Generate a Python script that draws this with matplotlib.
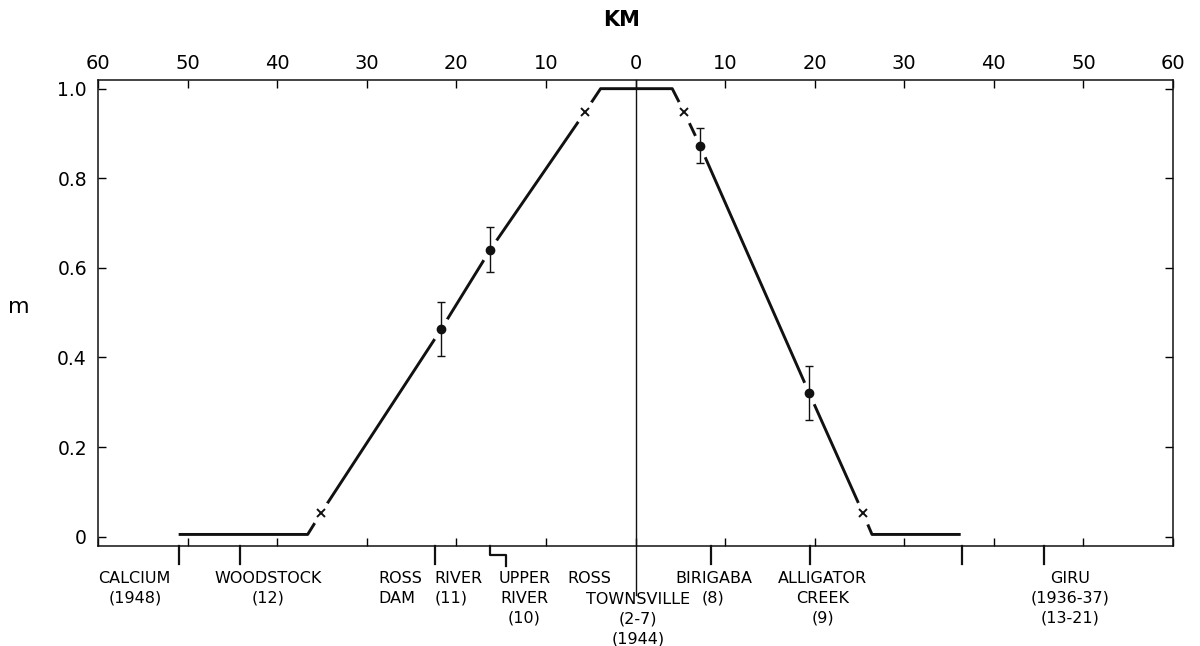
"""Profile of m against distance (km) either side of Townsville."""

import matplotlib
matplotlib.use("Agg")
import matplotlib.pyplot as plt

# fitted profile (km, m)
profile_km = [-51.0, -36.6, -35.1, -21.7, -16.2, -5.6, -3.9, 4.1, 5.4, 7.2, 19.4, 25.4, 26.4, 36.3]
profile_m = [0.005, 0.005, 0.053, 0.463, 0.641, 0.949, 1.0, 1.0, 0.949, 0.873, 0.320, 0.052, 0.005, 0.005]

# observed points with error bars
obs_km = [-21.7, -16.2, 7.2, 19.4]
obs_m = [0.463, 0.641, 0.873, 0.320]
obs_err = [0.06, 0.05, 0.04, 0.06]

# crosses on the profile
cross_km = [-35.1, -5.6, 5.4, 25.4]
cross_m = [0.053, 0.949, 0.949, 0.052]

# station positions on the lower axis
station_km = [-51.0, -44.1, -22.4, 0.0, 8.4, 19.5, 36.4, 45.6]
upper_ross_km = (-16.2, -14.5)

top_ticks = list(range(-60, 61, 10))
y_ticks = [0, 0.2, 0.4, 0.6, 0.8, 1.0]
y_labels = ["0", "0.2", "0.4", "0.6", "0.8", "1.0"]

# station labels: (km, text, ha, row)
station_labels = [
    (-55.9, "CALCIUM\n(1948)", "center", 0),
    (-41.0, "WOODSTOCK\n(12)", "center", 0),
    (-28.7, "ROSS\nDAM", "left", 0),
    (-22.4, "RIVER\n(11)", "left", 0),
    (-12.4, "UPPER\nRIVER\n(10)", "center", 0),
    (-7.6, "ROSS", "left", 0),
    (0.3, "TOWNSVILLE\n(2-7)\n(1944)", "center", 1),
    (8.7, "BIRIGABA\n(8)", "center", 0),
    (20.9, "ALLIGATOR\nCREEK\n(9)", "center", 0),
    (48.5, "GIRU\n(1936-37)\n(13-21)", "center", 0),
]


def main() -> None:
    plt.rcParams["font.family"] = ["DejaVu Sans"]
    fig = plt.figure(figsize=(12, 6.46), dpi=100)
    ax = fig.add_axes([0.0817, 0.1548, 0.8958, 0.7214])

    ax.set_xlim(-60, 60)
    ax.set_ylim(-0.0208, 1.0194)

    # profile line, masked round each marker to leave gaps
    ax.plot(profile_km, profile_m, color="#111111", lw=2.1, zorder=2,
            solid_capstyle="butt")
    ax.plot(obs_km + cross_km, obs_m + cross_m, ls="none", marker="o",
            ms=17, mfc="white", mec="none", zorder=3)
    ax.errorbar(obs_km, obs_m, yerr=obs_err, fmt="o", color="#111111",
                ms=6, elinewidth=1.0, capsize=3, capthick=1.0, zorder=4)
    ax.plot(cross_km, cross_m, ls="none", marker="x", ms=6, mew=1.4,
            color="#111111", zorder=4)

    # vertical line through Townsville, continuing below the axis
    xt = ax.get_xaxis_transform()
    ax.plot([0, 0], [1, -0.105], transform=xt, color="#111111", lw=1.0,
            clip_on=False, zorder=2)

    # station ticks below the axis
    for km in station_km:
        if km == 0.0:
            continue
        ax.plot([km, km], [0, -0.038], transform=xt, color="#111111",
                lw=1.6, clip_on=False)
    a, b = upper_ross_km
    ax.plot([a, a, b, b], [0, -0.02, -0.02, -0.042], transform=xt,
            color="#111111", lw=1.6, clip_on=False)

    for km, text, ha, row in station_labels:
        ax.annotate(text, xy=(km, 0), xycoords=xt,
                    xytext=(0, -18 - 15.1 * row), textcoords="offset points",
                    ha=ha, va="top", fontsize=11.5, linespacing=1.38,
                    multialignment=ha, annotation_clip=False)

    # axes styling
    ax.set_xticks(top_ticks)
    ax.set_xticklabels([str(abs(t)) for t in top_ticks])
    ax.tick_params(axis="x", top=True, bottom=True, labeltop=True,
                   labelbottom=False, direction="in", length=6, width=1.0,
                   labelsize=14, pad=5)
    ax.set_yticks(y_ticks)
    ax.set_yticklabels(y_labels)
    ax.tick_params(axis="y", left=True, right=True, direction="in",
                   length=6, width=1.0, labelsize=13.5, pad=8)
    for spine in ax.spines.values():
        spine.set_linewidth(1.1)
        spine.set_color("#111111")

    fig.text(622 / 1200, 1 - 20 / 646, "KM", ha="center", va="center",
             fontsize=15, fontweight="bold")
    fig.text(19 / 1200, 1 - 307 / 646, "m", ha="center", va="center",
             fontsize=16)

    fig.savefig("out.png", dpi=100)


if __name__ == "__main__":
    main()
